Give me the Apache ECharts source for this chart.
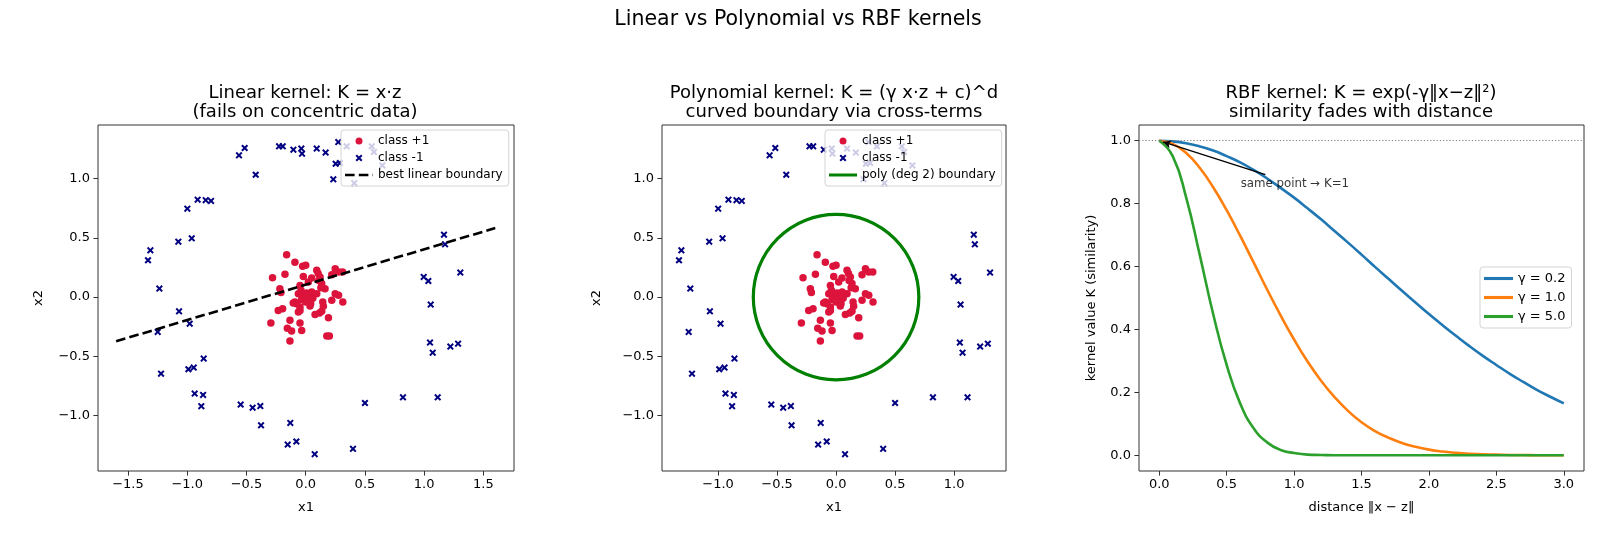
<!DOCTYPE html>
<html>
<head>
<meta charset="utf-8">
<script src="https://cdn.jsdelivr.net/npm/echarts@6/dist/echarts.min.js"></script>
<style>
  html, body { margin: 0; padding: 0; background: #fff; }
  #chart { width: 1600px; height: 533px; }
</style>
</head>
<body>
<div id="chart"></div>
<script>
// concentric data (same points in both)
var classPos = [
  [-0.161, 0.358], [-0.091, 0.294], [-0.026, 0.260], [0.000, 0.268], [-0.280, 0.164],
  [-0.175, 0.192], [-0.020, 0.175], [0.050, 0.161], [0.093, 0.226], [0.121, 0.170],
  [0.135, 0.114], [0.249, 0.240], [0.277, 0.212], [0.311, 0.212], [0.220, 0.189],
  [0.022, 0.127], [-0.048, 0.099], [-0.218, 0.071], [-0.209, 0.038], [0.163, 0.071],
  [0.105, 0.200], [0.110, 0.140], [0.128, 0.080],
  [-0.062, 0.029], [-0.040, 0.057], [-0.014, 0.015], [0.008, 0.035], [0.028, 0.001],
  [-0.034, -0.021], [0.000, -0.041], [-0.077, -0.055], [0.042, -0.055], [-0.105, -0.050],
  [-0.048, -0.083], [-0.091, -0.041],
  [0.249, 0.029], [0.277, 0.015], [0.313, -0.041], [0.220, -0.027], [0.144, -0.041],
  [0.149, -0.078], [0.036, -0.075], [-0.048, -0.112], [-0.062, -0.126], [-0.232, -0.112],
  [-0.195, -0.098], [0.079, -0.146], [0.116, -0.134], [0.135, -0.120], [0.192, -0.174],
  [-0.133, -0.196], [-0.048, -0.219], [-0.294, -0.219], [-0.155, -0.262], [-0.119, -0.287],
  [-0.034, -0.281], [-0.133, -0.371], [0.178, -0.328], [0.200, -0.328], [0.093, 0.029],
  [0.051, 0.043], [0.060, -0.010]
];
var classNeg = [
  [-0.563, 1.197], [-0.515, 1.259], [-0.225, 1.273], [-0.194, 1.273], [-0.104, 1.245],
  [-0.037, 1.254], [-0.031, 1.211], [0.093, 1.254], [0.168, 1.220], [0.253, 1.126],
  [0.233, 0.994], [0.275, 1.309], [0.346, 1.273], [0.557, 1.273], [0.576, 1.225],
  [0.410, 0.963], [0.647, 1.112], [0.289, 1.132], [-0.422, 1.033], [-0.999, 0.747],
  [-0.912, 0.823], [-0.844, 0.818], [-0.799, 0.812], [-1.075, 0.468], [-0.962, 0.496],
  [-1.311, 0.395], [-1.331, 0.311], [-1.235, 0.072], [-1.069, -0.120], [-0.979, -0.224],
  [-1.249, -0.294], [-1.221, -0.646], [-0.990, -0.609], [-0.945, -0.595], [-0.861, -0.519],
  [-0.937, -0.814], [-0.866, -0.826], [-0.881, -0.921], [-0.549, -0.907], [-0.448, -0.933],
  [-0.383, -0.920], [-0.377, -1.082], [-0.130, -1.062], [-0.152, -1.245], [-0.079, -1.219],
  [0.076, -1.326], [0.399, -1.281], [0.500, -0.894], [0.821, -0.846], [1.114, -0.846],
  [1.167, 0.527], [1.176, 0.446], [1.305, 0.207], [0.996, 0.170], [1.035, 0.136],
  [1.055, -0.063], [1.049, -0.384], [1.072, -0.469], [1.221, -0.418], [1.286, -0.393]
];
var linearBoundary = [[-1.6, -0.373], [1.6, 0.583]];
var polyRadius = 0.7;

// RBF panel
var distances = [0, 0.1, 0.2, 0.3, 0.4, 0.5, 0.6, 0.7, 0.8, 0.9, 1.0, 1.1, 1.2, 1.3, 1.4, 1.5,
  1.6, 1.7, 1.8, 1.9, 2.0, 2.1, 2.2, 2.3, 2.4, 2.5, 2.6, 2.7, 2.8, 2.9, 3.0];
var kGamma02 = [1.000, 0.998, 0.992, 0.982, 0.969, 0.951, 0.931, 0.907, 0.880, 0.850, 0.819,
  0.785, 0.750, 0.713, 0.676, 0.638, 0.599, 0.561, 0.523, 0.486, 0.449, 0.414, 0.380, 0.347,
  0.316, 0.287, 0.259, 0.233, 0.208, 0.186, 0.165];
var kGamma1 = [1.000, 0.990, 0.961, 0.914, 0.852, 0.779, 0.698, 0.613, 0.527, 0.445, 0.368,
  0.298, 0.237, 0.185, 0.141, 0.105, 0.077, 0.056, 0.039, 0.027, 0.018, 0.012, 0.008, 0.005,
  0.003, 0.002, 0.001, 0.001, 0, 0, 0];
var kGamma5 = [1.000, 0.951, 0.819, 0.638, 0.449, 0.287, 0.165, 0.086, 0.041, 0.017, 0.007,
  0.002, 0.001, 0, 0, 0, 0, 0, 0, 0, 0, 0, 0, 0, 0, 0, 0, 0, 0, 0, 0];
var gammaNames = ['γ = 0.2', 'γ = 1.0', 'γ = 5.0'];
var annoText = 'same point → K=1';
var annoAt = [0.6, 0.85];
var arrowFrom = [0.787, 0.892];
var arrowTo = [0.028, 0.996];

var ticksWide = [-1.5, -1.0, -0.5, 0, 0.5, 1.0, 1.5];
var ticksNarrow = [-1.0, -0.5, 0, 0.5, 1.0];
var ticksDist = [0, 0.5, 1.0, 1.5, 2.0, 2.5, 3.0];
var ticksK = [0, 0.2, 0.4, 0.6, 0.8, 1.0];

var FONT = 'DejaVu Sans';
var XMARK = 'path://M2,0L5,3L8,0L10,2L7,5L10,8L8,10L5,7L2,10L0,8L3,5L0,2Z';
var ICON_DASH = 'path://M0,0H9.6V2.6H0ZM13.8,0H23.4V2.6H13.8ZM27.6,0H28V2.6H27.6Z';
var ICON_LINE = 'path://M0,0H28V3H0Z';

function fmt(v) {
  return (v < 0 ? '\u2212' : '') + Math.abs(v).toFixed(1);
}
function zip(xs, ys) {
  var out = [];
  for (var i = 0; i < xs.length; i++) out.push([xs[i], ys[i]]);
  return out;
}

function axis(gi, min, max, ticks, name, gap, isY) {
  return {
    type: 'value', gridIndex: gi, min: min, max: max,
    name: name, nameLocation: 'middle', nameGap: gap,
    nameTextStyle: { fontFamily: FONT, fontSize: 13, color: '#000' },
    axisLine: { show: false, onZero: false },
    axisTick: { show: true, inside: false, length: 4.6, customValues: ticks,
      lineStyle: { color: '#333', width: 1 } },
    axisLabel: { show: true, margin: isY ? 8 : 7, customValues: ticks, formatter: fmt,
      fontFamily: FONT, fontSize: 13, color: '#000' },
    splitLine: { show: false }
  };
}

var gridBase = { show: true, borderColor: '#333', borderWidth: 1, backgroundColor: '#fff',
  containLabel: false, outerBoundsMode: 'none' };

function legendBox(left, top, names, fs, lh, iw, gap) {
  return {
    orient: 'vertical', left: left, top: top, padding: [4, 6, 4, 4],
    itemWidth: iw, itemHeight: 7, itemGap: gap, selectedMode: false,
    backgroundColor: 'rgba(255,255,255,0.8)', borderColor: '#d4d4d4', borderWidth: 1,
    borderRadius: 3,
    textStyle: { fontFamily: FONT, fontSize: fs, lineHeight: lh, color: '#000' },
    data: names
  };
}

function subTitle(x, text) {
  return { text: text, left: x, top: 84, textAlign: 'center', padding: 0,
    textStyle: { fontFamily: FONT, fontSize: 18, fontWeight: 'normal', color: '#000', lineHeight: 19 } };
}

var chart = echarts.init(document.getElementById('chart'), null, { renderer: 'canvas' });

chart.setOption({
  animation: false,
  backgroundColor: '#fff',
  title: [
    { text: 'Linear vs Polynomial vs RBF kernels', left: 798, top: 9, textAlign: 'center', padding: 0,
      textStyle: { fontFamily: FONT, fontSize: 20.5, fontWeight: 'normal', color: '#000' } },
    subTitle(305, 'Linear kernel: K = x·z\n(fails on concentric data)'),
    subTitle(834, 'Polynomial kernel: K = (γ x·z + c)^d\ncurved boundary via cross-terms'),
    subTitle(1361, 'RBF kernel: K = exp(-γ‖x−z‖²)\nsimilarity fades with distance')
  ],
  grid: [
    Object.assign({ left: 98, top: 125, width: 416, height: 346 }, gridBase),
    Object.assign({ left: 662, top: 125, width: 344, height: 346 }, gridBase),
    Object.assign({ left: 1139, top: 125, width: 445, height: 346 }, gridBase)
  ],
  xAxis: [
    axis(0, -1.753, 1.758, ticksWide, 'x1', 30, false),
    axis(1, -1.475, 1.44, ticksNarrow, 'x1', 30, false),
    axis(2, -0.15, 3.15, ticksDist, 'distance ‖x − z‖', 30, false)
  ],
  yAxis: [
    axis(0, -1.468, 1.453, ticksNarrow, 'x2', 53, true),
    axis(1, -1.468, 1.453, ticksNarrow, 'x2', 59, true),
    axis(2, -0.05, 1.05, ticksK, 'kernel value K (similarity)', 41, true)
  ],
  legend: [
    legendBox(341, 130, ['class +1', 'class -1',
      { name: 'best linear boundary', icon: ICON_DASH, itemStyle: { color: '#000' } }], 12, 14, 28, 3),
    legendBox(825, 130, ['class +1', 'class -1',
      { name: 'poly (deg 2) boundary', icon: ICON_LINE, itemStyle: { color: '#008000' } }], 12, 14, 28, 3),
    legendBox(1480, 267, gammaNames.map(function (n, i) {
      return { name: n, icon: ICON_LINE, itemStyle: { color: ['#1f77b4', '#ff7f0e', '#2ca02c'][i] } };
    }), 13, 15, 29, 4)
  ],
  series: [
    // panel 1
    { type: 'scatter', name: 'class +1', xAxisIndex: 0, yAxisIndex: 0, data: classPos,
      symbol: 'circle', symbolSize: 7.5, itemStyle: { color: '#dc143c', opacity: 1 }, z: 2 },
    { type: 'scatter', name: 'class -1', xAxisIndex: 0, yAxisIndex: 0, data: classNeg,
      symbol: XMARK, symbolSize: 7, itemStyle: { color: '#000080', opacity: 1 }, z: 2 },
    { type: 'line', name: 'best linear boundary', xAxisIndex: 0, yAxisIndex: 0, data: linearBoundary,
      symbol: 'none', lineStyle: { color: '#000', width: 2.6, type: [9.6, 4.2] },
      itemStyle: { color: '#000' }, z: 3 },
    // panel 2
    { type: 'scatter', name: 'class +1', xAxisIndex: 1, yAxisIndex: 1, data: classPos,
      symbol: 'circle', symbolSize: 7.5, itemStyle: { color: '#dc143c', opacity: 1 }, z: 2 },
    { type: 'scatter', name: 'class -1', xAxisIndex: 1, yAxisIndex: 1, data: classNeg,
      symbol: XMARK, symbolSize: 7, itemStyle: { color: '#000080', opacity: 1 }, z: 2 },
    { type: 'custom', name: 'poly (deg 2) boundary', xAxisIndex: 1, yAxisIndex: 1,
      data: [[0, 0, polyRadius]], encode: { x: 0, y: 1 }, z: 3,
      itemStyle: { color: '#008000' },
      renderItem: function (params, api) {
        var c = api.coord([api.value(0), api.value(1)]);
        var s = api.size([api.value(2), api.value(2)]);
        return { type: 'circle', shape: { cx: c[0], cy: c[1], r: (s[0] + s[1]) / 2 },
          style: { fill: 'none', stroke: '#008000', lineWidth: 3.2 } };
      } },
    // panel 3
    { type: 'line', name: gammaNames[0], xAxisIndex: 2, yAxisIndex: 2, data: zip(distances, kGamma02),
      symbol: 'none', smooth: 0.5,
      lineStyle: { color: '#1f77b4', width: 2.6 }, itemStyle: { color: '#1f77b4' }, z: 2,
      markLine: { silent: true, symbol: ['none', 'none'], label: { show: false },
        lineStyle: { color: '#808080', width: 1, type: [1.2, 2] },
        data: [{ yAxis: 1 }] } },
    { type: 'line', name: gammaNames[1], xAxisIndex: 2, yAxisIndex: 2, data: zip(distances, kGamma1),
      symbol: 'none', smooth: 0.5,
      lineStyle: { color: '#ff7f0e', width: 2.6 }, itemStyle: { color: '#ff7f0e' }, z: 2 },
    { type: 'line', name: gammaNames[2], xAxisIndex: 2, yAxisIndex: 2, data: zip(distances, kGamma5),
      symbol: 'none', smooth: 0.5,
      lineStyle: { color: '#2ca02c', width: 2.6 }, itemStyle: { color: '#2ca02c' }, z: 2,
      markLine: { silent: true, symbol: ['none', 'arrow'], symbolSize: [6, 8], label: { show: false },
        lineStyle: { color: '#000', width: 1.3, type: 'solid' },
        data: [[{ coord: arrowFrom }, { coord: arrowTo }]] } },
    { type: 'scatter', name: 'annotation', xAxisIndex: 2, yAxisIndex: 2, data: [annoAt],
      symbolSize: 1, itemStyle: { color: 'rgba(0,0,0,0)' }, silent: true, z: 4,
      label: { show: true, position: 'right', distance: 0, offset: [0, -4], formatter: annoText,
        fontFamily: FONT, fontSize: 11.8, color: '#000' } }
  ]
});
</script>
</body>
</html>
